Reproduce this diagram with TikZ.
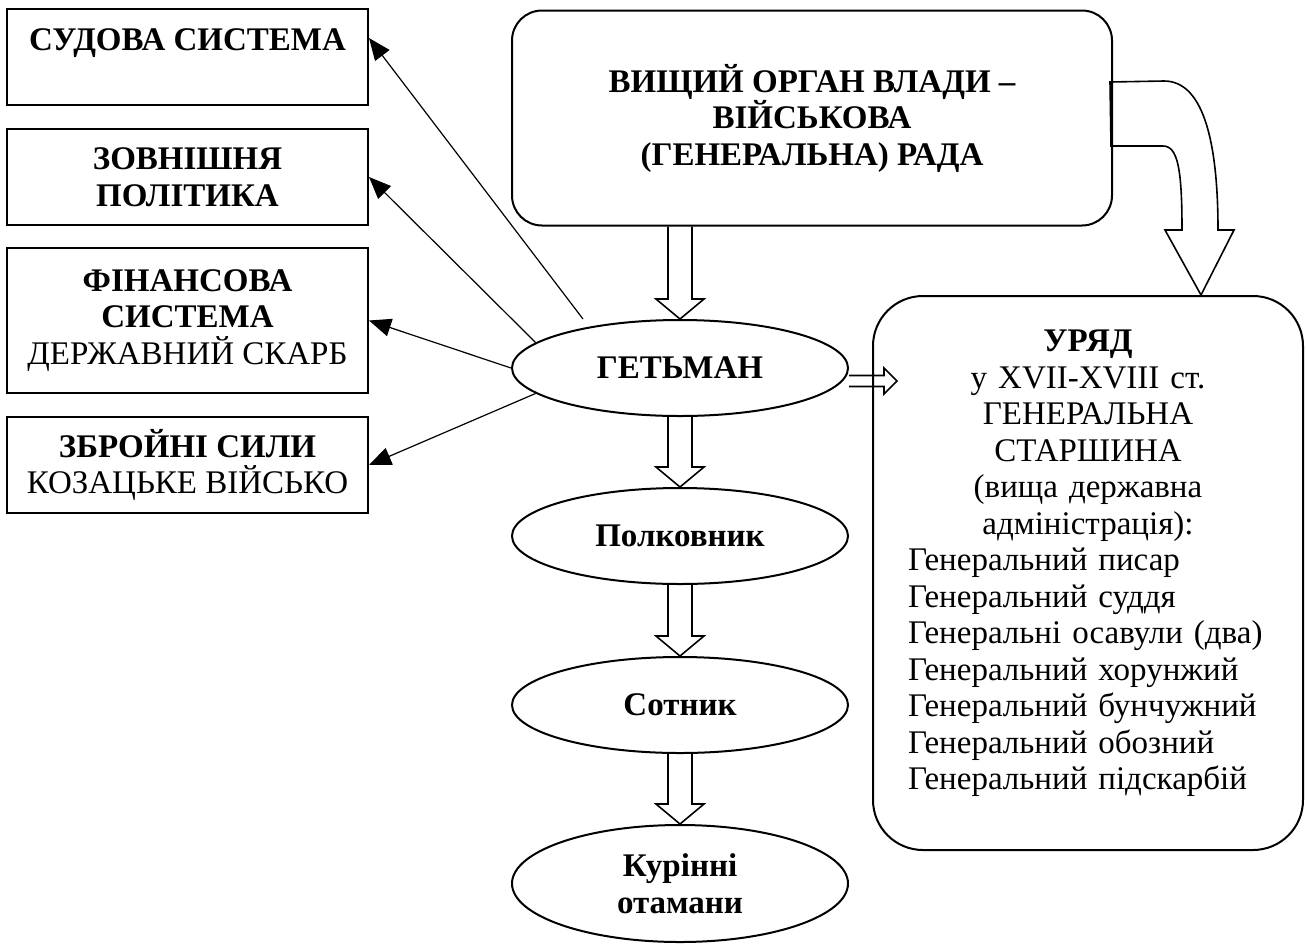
\documentclass[tikz,border=0pt]{standalone}
\usepackage{fontspec}
\setmainfont{Liberation Serif}
\usetikzlibrary{arrows.meta, positioning, shapes.geometric, calc}

\newcommand{\mainsize}{\fontsize{16.5}{18.25}\selectfont}
% hollow block arrow pointing down: #1 shaft start, #2 tip
\newcommand{\hollowdown}[2]{%
    \draw[hollow] ($(#1)+(-12,0)$) -- ($(#2)+(-12,-20)$) -- ($(#2)+(-24,-20)$)
        -- (#2) -- ($(#2)+(24,-20)$) -- ($(#2)+(12,-20)$) -- ($(#1)+(12,0)$);}

\begin{document}
\begin{tikzpicture}[
        x=0.5pt, y=-0.5pt,
        every node/.style={font=\mainsize},
        box/.style={draw, line width=1pt, minimum width=180.5pt,
            inner sep=0pt, align=center},
        oval/.style={ellipse, draw, line width=1pt, minimum width=168pt,
            minimum height=48pt, inner sep=0pt, align=center,
            font=\mainsize\bfseries},
        roundbox/.style={draw, line width=1pt, inner sep=0pt},
        hollow/.style={draw, line width=0.8pt, line join=miter},
        arr/.style={line width=0.6pt, -{Triangle[length=11pt, width=9pt]}},
    ]
    \useasboundingbox (0,0) rectangle (1307,944);

    % left column
    \node[box, minimum height=48pt] (sud) at (187.5,57) {\textbf{СУДОВА СИСТЕМА}\\[-6pt] \strut};
    \node[box, minimum height=48pt] (zov) at (187.5,177) {\textbf{ЗОВНІШНЯ}\\ \textbf{ПОЛІТИКА}};
    \node[box, minimum height=72.5pt] (fin) at (187.5,320.5)
        {\textbf{ФІНАНСОВА}\\ \textbf{СИСТЕМА}\\ ДЕРЖАВНИЙ СКАРБ};
    \node[box, minimum height=48pt] (zbr) at (187.5,465)
        {\textbf{ЗБРОЙНІ СИЛИ}\\ КОЗАЦЬКЕ ВІЙСЬКО};

    % central column
    \node[roundbox, rounded corners=15pt, minimum width=300pt, minimum height=107.5pt,
        align=center, font=\mainsize\bfseries] (rada) at (812,118)
        {ВИЩИЙ ОРГАН ВЛАДИ –\\ ВІЙСЬКОВА\\ (ГЕНЕРАЛЬНА) РАДА};
    \node[oval] (hetman) at (680,368) {ГЕТЬМАН};
    \node[oval] (polk) at (680,536) {Полковник};
    \node[oval] (sot) at (680,705) {Сотник};
    \node[oval, minimum height=58.5pt] (kur) at (680,883.5) {Курінні\\ отамани};

    % government
    \node[roundbox, rounded corners=25pt, minimum width=215pt, minimum height=277pt,
        text width=180pt] (uryad) at (1088,573)
        {\centering\textbf{УРЯД}\\ у XVII-XVIII ст.\\ ГЕНЕРАЛЬНА\\ СТАРШИНА\\
        (вища державна\\ адміністрація):\par
        \raggedright Генеральний писар\\ Генеральний суддя\\
        Генеральні осавули (два)\\ Генеральний хорунжий\\
        Генеральний бунчужний\\ Генеральний обозний\\
        Генеральний підскарбій\par\kern9.5pt};

    % hetman's powers
    \coordinate (sudend) at ($(hetman.north)+(-97,0)$);
    \coordinate (sudin) at ($(sud.east)+(0,-19)$);
    \draw[arr] (sudend) -- (sudin);
    \draw[arr] (hetman.170) -- (zov.east);
    \draw[arr] (hetman.west) -- (fin.east);
    \draw[arr] (hetman.190) -- (zbr.east);

    % chain of command
    \coordinate (rh) at (hetman.north |- rada.south);
    \hollowdown{rh}{hetman.north}
    \hollowdown{hetman.south}{polk.north}
    \hollowdown{polk.south}{sot.north}
    \hollowdown{sot.south}{kur.north}

    % hetman to government
    \coordinate (gu) at ($(hetman.east)+(0,13)$);
    \draw[hollow] (gu) ++(0,-5.5) -- ++(35,0) -- ++(0,-7.5) -- ++(13,13)
        -- ++(-13,13) -- ++(0,-7.5) -- ++(-35,0);

    % rada to government
    \coordinate (ra) at ($(rada.east)+(-3,-36)$);
    \coordinate (ut) at ($(uryad.north)+(113,0)$);
    \draw[hollow] (ra) -- ++(54,-1) .. controls +(42,0) and +(0,-80) .. ++(54,149)
        -- ++(16,0) -- (ut) -- ++(-36,-65) -- ++(17,0)
        .. controls +(0,-60) and +(15,0) .. ++(-19,-84) -- ++(-52,0) -- cycle;
\end{tikzpicture}
\end{document}
